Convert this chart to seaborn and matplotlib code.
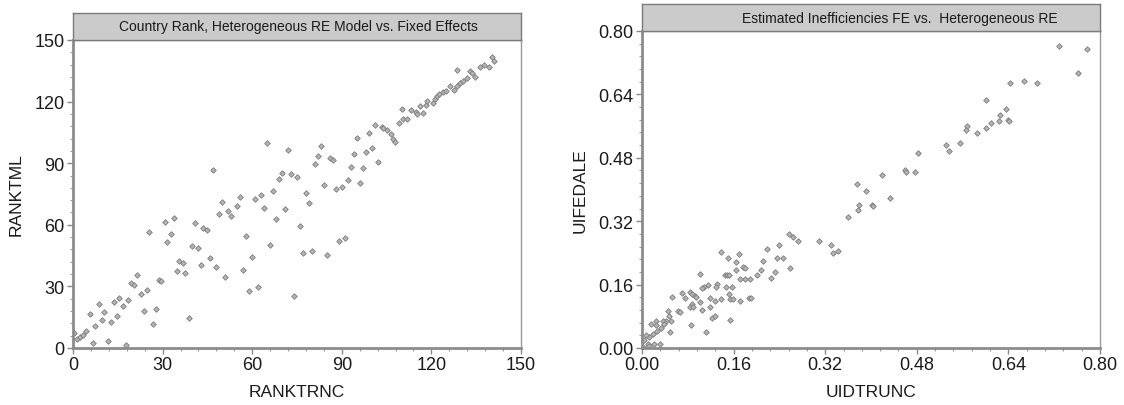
import numpy as np
import pandas as pd
import matplotlib
matplotlib.use("Agg")
import matplotlib.pyplot as plt
from matplotlib.ticker import MultipleLocator, FormatStrFormatter
import seaborn as sns

# ---------------- data ----------------
rank_trnc = [0.3, 1.5, 2.3, 3.2, 4.4, 5.7, 6.6, 7.5, 8.8, 9.7, 10.4, 11.7, 12.6, 13.7, 14.6, 15.5,
             16.6, 17.7, 18.4, 19.5, 20.4, 21.5, 22.7, 23.8, 24.9, 25.5, 26.7, 27.8, 28.7, 29.4,
             30.7, 31.6, 32.7, 33.8, 34.7, 35.6, 36.7, 37.6, 38.7, 39.8, 40.7, 41.8, 42.7, 43.6,
             44.7, 45.9, 47.9, 48.8, 49.9, 50.8, 51.9,
             46.8, 53.0, 54.8, 56.0, 56.8, 57.8, 59.0, 59.8, 60.8, 61.9, 62.9, 64.0, 65.1, 66.0,
             67.1, 68.0, 68.9, 70.0, 71.0, 71.9, 73.1, 74.0, 75.1, 76.0, 77.0, 78.0, 79.1, 80.0,
             81.0, 82.1, 82.9, 84.0, 85.0, 86.0, 87.2, 88.0, 89.2, 90.2, 91.0, 92.1, 93.1, 94.1,
             95.2, 96.1, 97.0, 98.1, 99.2, 100.2, 101.2, 102.1,
             103.3, 103.9, 105.0, 106.4, 107.2, 107.8, 109.3, 110.1, 110.4, 111.7, 113.1, 114.8,
             115.1, 116.2, 117.3, 118.2, 118.6, 120.4, 121.2, 122.0, 122.6, 123.8, 124.9, 126.2,
             127.6, 128.5, 128.7, 129.6, 130.7, 131.8, 132.9, 133.5, 134.6, 136.3, 137.6, 139.4,
             140.2, 140.9]
rank_tml = [7.1, 4.5, 5.5, 6.3, 8.4, 16.5, 2.4, 10.7, 21.3, 13.4, 17.6, 3.4, 12.6, 22.4, 15.6, 24.5,
            20.3, 1.6, 23.4, 31.5, 30.5, 35.4, 26.2, 18.2, 28.2, 56.5, 11.5, 19.2, 32.9, 32.4,
            61.3, 51.5, 55.7, 63.4, 37.4, 42.5, 41.6, 36.6, 14.4, 49.6, 60.7, 48.6, 40.2, 58.6,
            57.3, 43.6, 39.5, 65.5, 71.3, 34.5, 66.5,
            86.7, 64.4, 69.2, 73.3, 38.1, 54.4, 27.6, 44.4, 72.6, 29.5, 74.6, 68.4, 99.6, 50.2,
            76.4, 62.6, 82.5, 85.4, 67.6, 96.5, 84.6, 25.3, 83.3, 59.2, 46.5, 75.4, 70.6, 47.3,
            89.6, 93.6, 98.6, 79.6, 45.4, 92.3, 91.5, 77.5, 52.2, 78.3, 53.4, 81.8, 88.3, 94.6,
            102.3, 80.4, 87.5, 95.4, 104.5, 97.3, 108.6, 90.4,
            107.7, 106.9, 106.4, 104.0, 101.8, 100.4, 109.6, 116.4, 111.5, 111.7, 115.7, 114.9,
            113.8, 117.7, 114.4, 118.2, 120.2, 119.3, 121.4, 122.5, 123.8, 124.6, 125.4, 127.8,
            125.8, 135.6, 127.7, 129.0, 129.9, 131.6, 134.8, 133.8, 132.2, 136.7, 138.0, 137.0,
            141.9, 139.9]

uid_trunc = [0.257, 0.264, 0.272, 0.239, 0.218, 0.169, 0.138, 0.150, 0.165, 0.212, 0.236, 0.247,
             0.176, 0.180, 0.102, 0.145, 0.148, 0.152, 0.164, 0.171, 0.180, 0.188, 0.201, 0.207,
             0.226, 0.233, 0.259, 0.116, 0.109, 0.104, 0.131, 0.129, 0.146, 0.157, 0.083, 0.088,
             0.092, 0.069, 0.075, 0.095, 0.052, 0.101, 0.087, 0.083, 0.089, 0.118, 0.118, 0.127,
             0.138, 0.152, 0.154, 0.159, 0.172, 0.187, 0.191, 0.063, 0.066, 0.104, 0.045, 0.047,
             0.051, 0.042, 0.036, 0.038, 0.024, 0.025, 0.016, 0.019, 0.027, 0.034, 0.049, 0.085,
             0.112, 0.123, 0.127, 0.153, 0.013, 0.007, 0.004, 0.010, 0.012, 0.021, 0.031, 0.001,
             0.309, 0.330, 0.333, 0.342, 0.359, 0.376, 0.378, 0.379, 0.392, 0.402, 0.404, 0.419,
             0.434, 0.459, 0.462, 0.476, 0.482, 0.531, 0.536,
             0.729, 0.777, 0.761, 0.643, 0.668, 0.690, 0.601, 0.636, 0.625, 0.624, 0.640, 0.641,
             0.609, 0.601, 0.585, 0.567, 0.566, 0.556]
uife_dale = [0.288, 0.281, 0.271, 0.261, 0.249, 0.236, 0.243, 0.226, 0.217, 0.220, 0.228, 0.228,
             0.205, 0.201, 0.187, 0.184, 0.185, 0.183, 0.197, 0.175, 0.175, 0.175, 0.183, 0.196,
             0.176, 0.193, 0.201, 0.160, 0.153, 0.151, 0.161, 0.153, 0.153, 0.153, 0.142, 0.136,
             0.132, 0.138, 0.126, 0.128, 0.128, 0.115, 0.111, 0.103, 0.104, 0.126, 0.103, 0.118,
             0.124, 0.136, 0.124, 0.124, 0.118, 0.126, 0.126, 0.093, 0.090, 0.095, 0.093, 0.082,
             0.069, 0.069, 0.068, 0.061, 0.068, 0.059, 0.061, 0.036, 0.044, 0.051, 0.040, 0.058,
             0.040, 0.076, 0.081, 0.071, 0.028, 0.032, 0.019, 0.011, 0.004, 0.011, 0.011, 0.003,
             0.271, 0.260, 0.241, 0.245, 0.331, 0.415, 0.348, 0.360, 0.397, 0.361, 0.359, 0.437,
             0.378, 0.449, 0.445, 0.445, 0.492, 0.512, 0.497,
             0.762, 0.754, 0.694, 0.668, 0.673, 0.670, 0.626, 0.603, 0.587, 0.572, 0.576, 0.574,
             0.569, 0.556, 0.542, 0.561, 0.551, 0.517]

left_title = "Country Rank, Heterogeneous RE Model vs. Fixed Effects"
right_title = "Estimated Inefficiencies FE vs.  Heterogeneous RE"
left_xlabel, left_ylabel = "RANKTRNC", "RANKTML"
right_xlabel, right_ylabel = "UIDTRUNC", "UIFEDALE"
left_ticks = [0, 30, 60, 90, 120, 150]
right_ticks = [0.00, 0.16, 0.32, 0.48, 0.64, 0.80]

# ---------------- style ----------------
sns.set_style("ticks")
plt.rcParams['font.family'] = ['Liberation Sans', 'DejaVu Sans']

W, H = 1124, 406
fig = plt.figure(figsize=(W / 100, H / 100), dpi=100)


def fr(x0, y0, x1, y1):
    return [x0 / W, 1 - y1 / H, (x1 - x0) / W, (y1 - y0) / H]


df_left = pd.DataFrame({"x": rank_trnc, "y": rank_tml})
df_right = pd.DataFrame({"x": uid_trunc, "y": uife_dale})

panels = [
    (fr(73, 41, 521, 349), fr(73, 14, 521, 41), df_left, left_ticks, 6, None,
     left_title, 298, left_xlabel, left_ylabel),
    (fr(642, 32, 1100, 349), fr(642, 5, 1100, 32), df_right, right_ticks, 0.032, "%.2f",
     right_title, 900, right_xlabel, right_ylabel),
]

for rect, srect, df, ticks, minor, fmt, title, title_x, xl, yl in panels:
    ax = fig.add_axes(rect)
    sns.scatterplot(data=df, x="x", y="y", ax=ax, marker="D", s=8,
                    color="#b4b4b4", edgecolor="#7c7c7c", linewidth=0.6, legend=False)
    ax.set_xlim(ticks[0], ticks[-1])
    ax.set_ylim(ticks[0], ticks[-1])
    ax.set_xticks(ticks)
    ax.set_yticks(ticks)
    ax.xaxis.set_minor_locator(MultipleLocator(minor))
    ax.yaxis.set_minor_locator(MultipleLocator(minor))
    if fmt:
        ax.xaxis.set_major_formatter(FormatStrFormatter(fmt))
        ax.yaxis.set_major_formatter(FormatStrFormatter(fmt))
    ax.tick_params(which="major", direction="out", length=4, width=1, color="#888888",
                   labelsize=13, labelcolor="#1a1a1a", pad=2)
    ax.tick_params(which="minor", direction="out", length=2.5, width=0.8, color="#999999")
    for side in ["left", "bottom"]:
        ax.spines[side].set_color("#8c8c8c")
        ax.spines[side].set_linewidth(2)
    for side in ["top", "right"]:
        ax.spines[side].set_visible(True)
        ax.spines[side].set_color("#9a9a9a")
        ax.spines[side].set_linewidth(1)
    ax.set_xlabel(xl, fontsize=12.5, color="#1a1a1a", labelpad=8)
    ax.set_ylabel(yl, fontsize=12.5, color="#1a1a1a", labelpad=8)

    sax = fig.add_axes(srect)
    sax.set_facecolor("#cbcbcb")
    sax.set_xticks([])
    sax.set_yticks([])
    for sp in sax.spines.values():
        sp.set_color("#7a7a7a")
        sp.set_linewidth(1)
    sax.text((title_x - srect[0] * W) / (srect[2] * W), 0.5, title, ha="center", va="center",
             fontsize=10, color="#1a1a1a", transform=sax.transAxes)

fig.savefig("out.png", dpi=100)
